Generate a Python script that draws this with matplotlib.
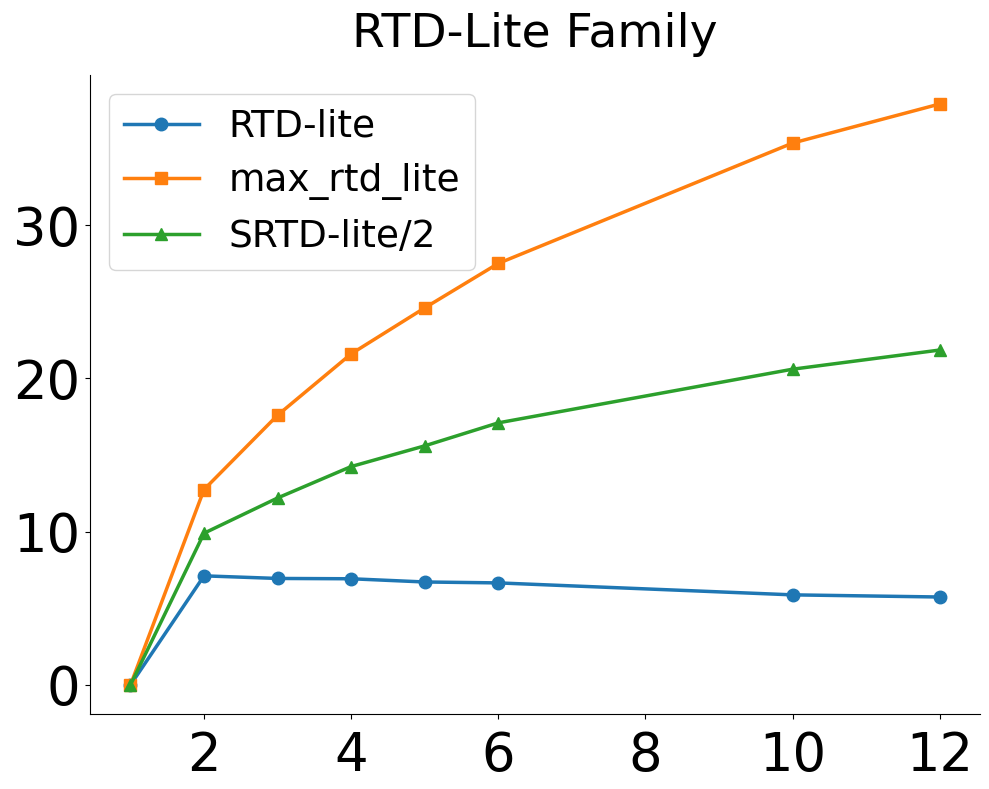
import matplotlib
matplotlib.use("Agg")
import matplotlib.pyplot as plt

# x positions (number of ...)
x = [1, 2, 3, 4, 5, 6, 10, 12]
rtd_lite = [0, 7.12, 6.95, 6.93, 6.72, 6.66, 5.88, 5.74]
max_rtd_lite = [0, 12.75, 17.6, 21.6, 24.6, 27.5, 35.35, 37.9]
srtd_lite_half = [0, 9.9, 12.2, 14.25, 15.6, 17.1, 20.6, 21.85]

fig, ax = plt.subplots(figsize=(9.89, 7.89), dpi=100)
ax.plot(x, rtd_lite, marker='o', lw=2.5, ms=9, label='RTD-lite')
ax.plot(x, max_rtd_lite, marker='s', lw=2.5, ms=9, label='max_rtd_lite')
ax.plot(x, srtd_lite_half, marker='^', lw=2.5, ms=9, label='SRTD-lite/2')

ax.set_title('RTD-Lite Family', fontsize=34, pad=20)
ax.tick_params(labelsize=38)
ax.tick_params(axis='x', pad=8)
ax.set_xticks([2, 4, 6, 8, 10, 12])
ax.set_yticks([0, 10, 20, 30])
ax.spines['top'].set_visible(False)
ax.spines['right'].set_visible(False)
ax.legend(fontsize=27, loc='upper left')

plt.subplots_adjust(left=0.091, right=0.991, bottom=0.095, top=0.905)
plt.savefig('out.png')
